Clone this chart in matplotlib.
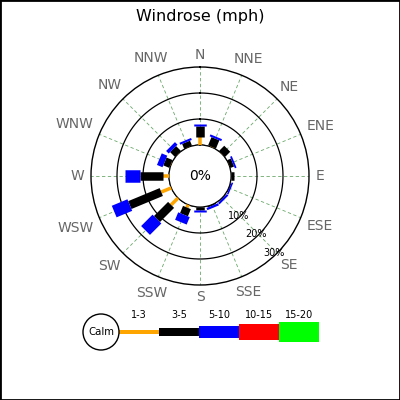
import numpy as np
import matplotlib
matplotlib.use('Agg')
import matplotlib.pyplot as plt
from matplotlib.patches import Rectangle, Circle

plt.rcParams['font.family'] = ['DejaVu Sans']

# 风向及各风速段频率 (%)
directions = ['N', 'NNE', 'NE', 'ENE', 'E', 'ESE', 'SE', 'SSE',
              'S', 'SSW', 'SW', 'WSW', 'W', 'WNW', 'NW', 'NNW']
speed_ranges = ['1-3', '3-5', '5-10', '10-15', '15-20']
range_colors = ['#ffa500', '#000000', '#0000ff', '#ff0000', '#00ff00']
range_width_px = [3.5, 8.5, 12.5, 16, 20]

freq_1_3 = [3.2, 0.2, 0.1, 0.1, 0.1, 0.0, 0.0, 0.0, 0.0, 1.2, 3.8, 4.2, 2.2, 0.2, 0.1, 0.1]
freq_3_5 = [4.0, 3.4, 2.8, 1.5, 1.0, 0.3, 0.3, 0.4, 1.0, 3.0, 7.7, 13.1, 9.0, 2.5, 2.6, 2.0]
freq_5_10 = [0.7, 0.8, 0.0, 0.7, 0.0, 0.6, 0.8, 0.9, 0.8, 3.1, 6.2, 6.5, 5.8, 2.3, 1.4, 0.8]
freq_10_15 = [0.0] * 16
freq_15_20 = [0.0] * 16
calm_pct = 0
ring_values = [10, 20, 30]

px2pt = 72 / 100

fig = plt.figure(figsize=(4, 4), dpi=100)
fig.patch.set_facecolor('white')

# 极坐标轴: 中心 (200,176) 像素, 外圈半径 109 像素, 静风圈半径 31 像素
ax = fig.add_axes([91 / 400, (400 - 285) / 400, 218 / 400, 218 / 400], projection='polar')
ax.set_theta_zero_location('N')
ax.set_theta_direction(-1)
ax.set_ylim(0, 30)
a = 31 / 109 * 30 / (1 - 31 / 109)
ax.set_rorigin(-a)
ax.set_xticks([])
ax.set_yticks([])
ax.grid(False)
ax.spines['polar'].set_linewidth(1.0)
ax.spines['polar'].set_color('black')

theta = np.deg2rad(np.arange(16) * 22.5)
full = np.linspace(0, 2 * np.pi, 400)

# 网格线
for th in theta:
    ax.plot([th, th], [0, 30], color='#6aa86a', lw=0.6, ls=(0, (4, 3)), zorder=1)
# 圆环
for rv in ring_values[:-1]:
    ax.plot(full, np.full_like(full, rv), color='black', lw=0.9, zorder=2)
ax.plot(full, np.zeros_like(full), color='black', lw=0.9, zorder=2)

# 风玫瑰条
series = [freq_1_3, freq_3_5, freq_5_10, freq_10_15, freq_15_20]
for i, th in enumerate(theta):
    r0 = 0
    for k, s in enumerate(series):
        if s[i] > 0:
            ax.plot([th, th], [r0, r0 + s[i]], color=range_colors[k],
                    lw=range_width_px[k] * px2pt, solid_capstyle='butt', zorder=3 + k)
        r0 += s[i]

# 圆环刻度标签
for rv in ring_values:
    ax.text(np.deg2rad(136), rv - 0.7, f'{rv}%', fontsize=7, ha='center', va='center', zorder=10)

ax.text(0.5, 0.5, f'{calm_pct}%', transform=ax.transAxes, fontsize=10,
        ha='center', va='center')

# 方向标签
renderer = fig.canvas.get_renderer()
for d, th in zip(directions, theta):
    t = ax.text(0, 0, d, fontsize=10, color='#666666')
    bb = t.get_window_extent(renderer)
    t.remove()
    w = bb.width
    h = 10
    dist = 7 + abs(np.sin(th)) * w / 2 + abs(np.cos(th)) * h / 2
    ax.annotate(d, xy=(th, 30), xytext=(np.sin(th) * dist * px2pt, np.cos(th) * dist * px2pt),
                textcoords='offset points', ha='center', va='center',
                fontsize=10, color='#666666', annotation_clip=False)

fig.text(0.5, 1 - 16 / 400, 'Windrose (mph)', ha='center', va='center', fontsize=11.5)

# 图例
lax = fig.add_axes([75 / 400, 45 / 400, 250 / 400, 50 / 400])
lax.set_xlim(75, 325)
lax.set_ylim(355, 305)
lax.axis('off')
lax.add_patch(Circle((101, 332), 18, facecolor='white', edgecolor='black', lw=1, zorder=3))
lax.text(101, 332, 'Calm', fontsize=7.3, ha='center', va='center', zorder=4)
for k, (lab, col, wpx) in enumerate(zip(speed_ranges, range_colors, range_width_px)):
    x0 = 119 + 40 * k
    lax.add_patch(Rectangle((x0, 332 - wpx / 2), 40, wpx, facecolor=col, edgecolor='none'))
    lax.text(x0 + 20, 315, lab, fontsize=7, ha='center', va='center')

fig.add_artist(Rectangle((0, 0), 1, 1, transform=fig.transFigure, fill=False,
                         edgecolor='black', lw=2))

plt.savefig('out.png', dpi=100)
